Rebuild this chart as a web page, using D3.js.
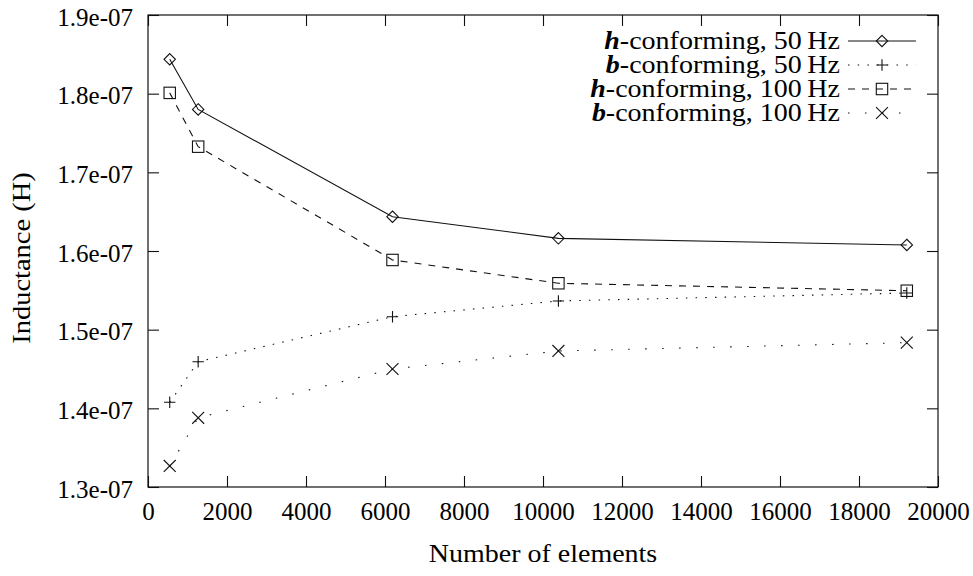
<!DOCTYPE html>
<html>
<head>
<meta charset="utf-8">
<script src="https://cdn.jsdelivr.net/npm/d3@7"></script>
<style>
  html, body { margin: 0; padding: 0; background: #fff; }
  svg { display: block; }
</style>
</head>
<body>
<svg id="chart" width="973" height="576"></svg>
<script>
// Mesh sizes and computed inductances for the four formulations
const elements = [550, 1270, 6190, 10390, 19210];
const hConf50  = [1.8437e-7, 1.780e-7, 1.6436e-7, 1.6161e-7, 1.6077e-7];
const bConf50  = [1.4077e-7, 1.4593e-7, 1.5165e-7, 1.5365e-7, 1.5466e-7];
const hConf100 = [1.801e-7, 1.7326e-7, 1.5886e-7, 1.559e-7, 1.5495e-7];
const bConf100 = [1.3267e-7, 1.388e-7, 1.450e-7, 1.4729e-7, 1.4835e-7];

const xTicks = [0, 2000, 4000, 6000, 8000, 10000, 12000, 14000, 16000, 18000, 20000];
const yTicks = [1.3e-7, 1.4e-7, 1.5e-7, 1.6e-7, 1.7e-7, 1.8e-7, 1.9e-7];

const seriesLetters = ["h", "b", "h", "b"];
const seriesFreqs   = ["50", "50", "100", "100"];

const series = [
  { values: hConf50,  letter: seriesLetters[0], freq: seriesFreqs[0], dash: null,       marker: "diamond" },
  { values: bConf50,  letter: seriesLetters[1], freq: seriesFreqs[1], dash: "1.5,8.2",  marker: "plus" },
  { values: hConf100, letter: seriesLetters[2], freq: seriesFreqs[2], dash: "7,7",      marker: "square" },
  { values: bConf100, letter: seriesLetters[3], freq: seriesFreqs[3], dash: "1.5,15.5", marker: "cross" }
];

const svg = d3.select("#chart");
const plotLeft = 148, plotRight = 938, plotTop = 15, plotBottom = 487;
const FONT = 25;
const FAMILY = '"Liberation Serif", "Times New Roman", serif';

const x = d3.scaleLinear().domain([0, 20000]).range([plotLeft, plotRight]);
const y = d3.scaleLinear().domain([1.3e-7, 1.9e-7]).range([plotBottom, plotTop]);

const ink = "#111";
const tickLen = 11;

// Axes with inward ticks, mirrored on the top and right edges
const xAxis = d3.axisBottom(x).tickValues(xTicks).tickFormat(d3.format("d"))
  .tickSizeInner(-tickLen).tickSizeOuter(0).tickPadding(15);
const yAxis = d3.axisLeft(y).tickValues(yTicks)
  .tickFormat(d => (d * 1e7).toFixed(1) + "e-07")
  .tickSizeInner(-tickLen).tickSizeOuter(0).tickPadding(15);
const xAxisTop = d3.axisTop(x).tickValues(xTicks).tickFormat("")
  .tickSizeInner(-tickLen).tickSizeOuter(0);
const yAxisRight = d3.axisRight(y).tickValues(yTicks).tickFormat("")
  .tickSizeInner(-tickLen).tickSizeOuter(0);

function styleAxis(g) {
  g.attr("font-family", null).style("font-family", FAMILY);
  g.select(".domain").remove();
  g.selectAll("line").attr("stroke", ink).attr("stroke-width", 1.1);
  g.selectAll("text").attr("fill", "#000").attr("font-size", FONT)
    .style("font-family", FAMILY);
}

svg.append("g").attr("transform", `translate(0,${plotBottom})`).call(xAxis).call(styleAxis);
svg.append("g").attr("transform", `translate(${plotLeft},0)`).call(yAxis).call(styleAxis)
  .selectAll("text").attr("dy", "0.40em");
svg.append("g").attr("transform", `translate(0,${plotTop})`).call(xAxisTop).call(styleAxis);
svg.append("g").attr("transform", `translate(${plotRight},0)`).call(yAxisRight).call(styleAxis);

// Plot frame
svg.append("rect")
  .attr("x", plotLeft).attr("y", plotTop)
  .attr("width", plotRight - plotLeft).attr("height", plotBottom - plotTop)
  .attr("fill", "none").attr("stroke", ink).attr("stroke-width", 1.2);

// Axis titles
svg.append("text")
  .attr("transform", `translate(543,562) scale(1.12,1)`)
  .attr("text-anchor", "middle").attr("font-size", FONT)
  .style("font-family", FAMILY)
  .text("Number of elements");
svg.append("text")
  .attr("transform", `translate(30,258) rotate(-90) scale(1.14,1)`)
  .attr("text-anchor", "middle").attr("font-size", FONT)
  .style("font-family", FAMILY)
  .text("Inductance (H)");

// Marker shapes
function drawMarker(g, type, cx, cy) {
  const s = 5.7;
  const common = sel => sel.attr("fill", "none").attr("stroke", ink).attr("stroke-width", 1.1);
  if (type === "diamond") {
    g.append("path").attr("d", `M${cx},${cy - s}L${cx + s},${cy}L${cx},${cy + s}L${cx - s},${cy}Z`).call(common);
  } else if (type === "square") {
    g.append("rect").attr("x", cx - s).attr("y", cy - s).attr("width", 2 * s).attr("height", 2 * s).call(common);
  } else if (type === "plus") {
    g.append("path").attr("d", `M${cx - s},${cy}H${cx + s}M${cx},${cy - s}V${cy + s}`).call(common);
  } else if (type === "cross") {
    const c = s * 1.05;
    g.append("path").attr("d", `M${cx - c},${cy - c}L${cx + c},${cy + c}M${cx - c},${cy + c}L${cx + c},${cy - c}`).call(common);
  }
}

const line = d3.line().x(d => x(d[0])).y(d => y(d[1]));

series.forEach(s => {
  const pts = elements.map((e, i) => [e, s.values[i]]);
  const g = svg.append("g");
  g.append("path").datum(pts).attr("d", line)
    .attr("fill", "none").attr("stroke", ink).attr("stroke-width", 1.1)
    .attr("stroke-dasharray", s.dash);
  pts.forEach(p => drawMarker(g, s.marker, x(p[0]), y(p[1])));
});

// Legend
const legendTextRight = 840;
const sampleX0 = 848, sampleX1 = 916;
series.forEach((s, i) => {
  const cy = 41 + i * 24;
  const t = svg.append("text")
    .attr("transform", `translate(${legendTextRight},${cy + 8}) scale(1.12,1)`)
    .attr("text-anchor", "end").attr("font-size", FONT)
    .style("font-family", FAMILY);
  t.append("tspan").attr("font-weight", "bold").attr("font-style", "italic").text(s.letter);
  t.append("tspan").text(`-conforming, ${s.freq}\u2009Hz`);
  svg.append("line")
    .attr("x1", sampleX0).attr("x2", sampleX1).attr("y1", cy).attr("y2", cy)
    .attr("stroke", ink).attr("stroke-width", 1.1).attr("stroke-dasharray", s.dash);
  drawMarker(svg.append("g"), s.marker, (sampleX0 + sampleX1) / 2, cy);
});
</script>
</body>
</html>
